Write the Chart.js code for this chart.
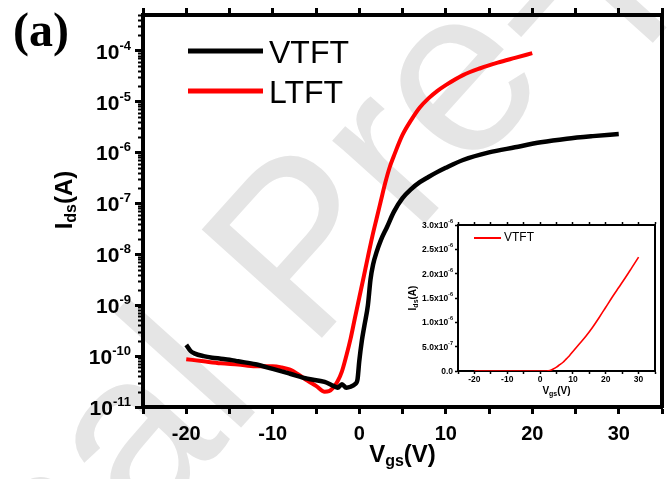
<!DOCTYPE html>
<html><head><meta charset="utf-8">
<script src="https://cdn.jsdelivr.net/npm/chart.js@4.4.0/dist/chart.umd.min.js"></script>
<style>
html,body{margin:0;padding:0;background:#fff;}
#wrap{position:relative;width:670px;height:479px;overflow:hidden;background:#fff;}
#main{position:absolute;left:0;top:0;}
#inset{position:absolute;left:400px;top:214px;}
</style></head><body>
<div id="wrap"><canvas id="main" width="670" height="479"></canvas><canvas id="inset" width="262" height="186"></canvas></div>
<script>
// ---------- data ----------
const vtftVgs = [-20,-19.5,-19,-18,-17,-16,-15,-14,-12,-10,-8,-6,-4,-3,-2.5,-2,-1.5,-1,-0.5,-0.2,0,0.3,0.6,1.0,1.3,1.6,2.0,2.5,3.2,4,5,6,7,8,9,10,12,15,18,21,24,27,30];
const vtftIds = [1.66e-10,1.26e-10,1.12e-10,1.0e-10,9.3e-11,8.9e-11,8.5e-11,7.9e-11,6.9e-11,5.6e-11,4.5e-11,3.6e-11,3.1e-11,2.6e-11,2.4e-11,2.8e-11,2.4e-11,2.5e-11,2.8e-11,3.5e-11,7.9e-11,2.0e-10,4.0e-10,1.0e-9,3.2e-9,6.3e-9,1.1e-8,1.9e-8,3.4e-8,6.8e-8,1.26e-7,1.9e-7,2.6e-7,3.3e-7,4.1e-7,5.0e-7,7.1e-7,1.0e-6,1.26e-6,1.58e-6,1.86e-6,2.09e-6,2.3e-6];
const ltftVgs = [-20,-18,-16,-14,-12,-10,-9,-8,-7,-6,-5,-4,-3.5,-3,-2.5,-2,-1.5,-1,-0.5,0,0.5,1,1.5,2,2.5,3,3.5,4,5,6,7,8,9,10,12,14,16,18,20];
const ltftIds = [8.7e-11,7.9e-11,7.2e-11,6.8e-11,6.3e-11,6.3e-11,6.0e-11,5.4e-11,4.3e-11,3.3e-11,2.6e-11,2.0e-11,2.05e-11,2.4e-11,3.2e-11,5.0e-11,1.0e-10,2.2e-10,5.6e-10,1.4e-9,3.5e-9,8.9e-9,2.2e-8,5.0e-8,1.12e-7,2.5e-7,5.0e-7,8.5e-7,2.2e-6,4.3e-6,7.6e-6,1.15e-5,1.6e-5,2.1e-5,3.3e-5,4.5e-5,5.8e-5,7.2e-5,8.9e-5];
const insetVgs = [-20,-10,0,2,3,4,5,6,7,8,9,10,12,14,16,18,20,22,24,26,28,30];
const insetIds = [0,0,0,0,0.01e-6,0.04e-6,0.08e-6,0.13e-6,0.18e-6,0.25e-6,0.32e-6,0.40e-6,0.56e-6,0.72e-6,0.90e-6,1.10e-6,1.31e-6,1.52e-6,1.72e-6,1.92e-6,2.13e-6,2.34e-6];

const seriesNames = ['VTFT','LTFT'];
const seriesColors = ['#000000','#ff0000'];
const xTickValues = [-25,-20,-15,-10,-5,0,5,10,15,20,25,30,35];
const yTickValues = [1e-11,1e-10,1e-9,1e-8,1e-7,1e-6,1e-5,1e-4];
const yTickBases = ['10','10','10','10','10','10','10','10'];
const yTickExps = ['-11','-10','-9','-8','-7','-6','-5','-4'];
const insetYTickValues = [0,5e-7,1e-6,1.5e-6,2e-6,2.5e-6,3e-6];
const insetYTickBases = ['0.0','5.0x10','1.0x10','1.5x10','2.0x10','2.5x10','3.0x10'];
const insetYTickExps = ['','-7','-6','-6','-6','-6','-6'];

const FONT = '"Liberation Sans", Arial, sans-serif';
Chart.defaults.font.family = FONT;
Chart.defaults.color = '#000';

function drawParts(ctx, parts, cx, y, weight) {
  let total = 0;
  parts.forEach(p => { ctx.font = weight + ' ' + p.size + 'px ' + FONT; p.w = ctx.measureText(p.t).width; total += p.w; });
  let x = cx - total / 2;
  ctx.textAlign = 'left'; ctx.textBaseline = 'alphabetic';
  parts.forEach(p => { ctx.font = weight + ' ' + p.size + 'px ' + FONT; ctx.fillText(p.t, x, y + (p.dy || 0)); x += p.w; });
}
function drawPowerLabel(ctx, base, exp, right, py, baseSize, expSize, baseDy, expDy) {
  ctx.textAlign = 'left'; ctx.textBaseline = 'alphabetic';
  ctx.font = 'bold ' + expSize + 'px ' + FONT;
  const ew = exp ? ctx.measureText(exp).width : 0;
  if (exp) ctx.fillText(exp, right - ew, py + expDy);
  ctx.font = 'bold ' + baseSize + 'px ' + FONT;
  const bw = ctx.measureText(base).width;
  ctx.fillText(base, right - ew - bw, py + baseDy);
}

const mainDecor = {
  id: 'mainDecor',
  beforeDraw(chart) {
    const ctx = chart.ctx;
    ctx.save();
    ctx.fillStyle = 'rgb(229,229,229)';
    ctx.font = '235px ' + FONT;
    ctx.translate(309, 352);
    ctx.rotate(-48 * Math.PI / 180);
    ctx.textBaseline = 'alphabetic';
    ctx.textAlign = 'right'; ctx.fillText('Journal ', 0, 0);
    ctx.textAlign = 'left'; ctx.fillText('Pre-proof', 0, 0);
    ctx.restore();
  },
  afterDraw(chart) {
    const ctx = chart.ctx, ca = chart.chartArea, ys = chart.scales.y;
    ctx.save();
    // minor log ticks
    ctx.strokeStyle = '#000'; ctx.lineWidth = 2;
    for (let e = -11; e <= -4; e++) {
      for (let k = 2; k <= 9; k++) {
        const v = k * Math.pow(10, e);
        if (v > ys.max) continue;
        const py = Math.round(ys.getPixelForValue(v)) + 0.5;
        ctx.beginPath(); ctx.moveTo(ca.left, py); ctx.lineTo(ca.left - 5, py); ctx.stroke();
      }
    }
    // y tick labels with superscript exponents
    ctx.fillStyle = '#000';
    yTickValues.forEach((v, i) => {
      const py = ys.getPixelForValue(v);
      drawPowerLabel(ctx, yTickBases[i], yTickExps[i], 131, py, 21, 13, 8, -1);
    });
    // legend
    const ly = [51, 91];
    ctx.lineWidth = 5; ctx.lineCap = 'butt';
    seriesNames.forEach((n, i) => {
      ctx.strokeStyle = seriesColors[i];
      ctx.beginPath(); ctx.moveTo(188, ly[i]); ctx.lineTo(263, ly[i]); ctx.stroke();
      ctx.fillStyle = '#000'; ctx.font = '32px ' + FONT; ctx.textAlign = 'left'; ctx.textBaseline = 'alphabetic';
      ctx.fillText(n, 269, ly[i] + 12);
    });
    // axis titles
    ctx.fillStyle = '#000';
    drawParts(ctx, [{t:'V', size:24}, {t:'gs', size:16, dy:4}, {t:'(V)', size:24}], (ca.left + ca.right) / 2, 462, 'bold');
    ctx.save();
    ctx.translate(72, 200);
    ctx.rotate(-Math.PI / 2);
    drawParts(ctx, [{t:'I', size:24}, {t:'ds', size:16, dy:4}, {t:'(A)', size:24}], 0, 0, 'bold');
    ctx.restore();
    // panel label
    ctx.font = 'bold 48px "Liberation Serif", "Times New Roman", serif';
    ctx.textAlign = 'left'; ctx.textBaseline = 'alphabetic';
    ctx.fillText('(a)', 13, 46);
    ctx.restore();
  }
};

const axisBorder = { width: 4, color: '#000' };
new Chart(document.getElementById('main'), {
  type: 'line',
  data: {
    datasets: [
      { label: seriesNames[0], data: vtftVgs.map((x, i) => ({ x, y: vtftIds[i] })), borderColor: seriesColors[0], borderWidth: 4.5, pointRadius: 0, cubicInterpolationMode: 'monotone', fill: false },
      { label: seriesNames[1], data: ltftVgs.map((x, i) => ({ x, y: ltftIds[i] })), borderColor: seriesColors[1], borderWidth: 4, pointRadius: 0, cubicInterpolationMode: 'monotone', fill: false }
    ]
  },
  options: {
    responsive: false, animation: false, devicePixelRatio: 1,
    layout: { padding: 0 },
    plugins: { legend: { display: false }, tooltip: { enabled: false } },
    scales: {
      x: {
        type: 'linear', position: 'bottom', min: -25, max: 35,
        afterBuildTicks: s => { s.ticks = xTickValues.map(v => ({ value: v })); },
        ticks: { callback: v => (v % 10 === 0 ? String(v) : ''), font: { size: 20, weight: 'bold' }, color: '#000', padding: 8, maxRotation: 0, autoSkip: false },
        grid: { drawOnChartArea: false, tickLength: 7, tickWidth: 3, tickColor: '#000' },
        border: axisBorder,
        afterFit: s => { s.height = 72; }
      },
      x2: {
        type: 'linear', position: 'top', min: -25, max: 35,
        afterBuildTicks: s => { s.ticks = xTickValues.map(v => ({ value: v })); },
        ticks: { display: false },
        grid: { drawOnChartArea: false, tickLength: 7, tickWidth: 3, tickColor: '#000' },
        border: axisBorder,
        afterFit: s => { s.height = 15; }
      },
      y: {
        type: 'logarithmic', position: 'left', min: 1e-11, max: 5e-4,
        afterBuildTicks: s => { s.ticks = yTickValues.map(v => ({ value: v, major: true })); },
        ticks: { display: false },
        grid: { drawOnChartArea: false, tickLength: 8, tickWidth: 3, tickColor: '#000' },
        border: axisBorder,
        afterFit: s => { s.width = 143; }
      },
      y2: {
        type: 'linear', position: 'right',
        ticks: { display: false },
        grid: { drawOnChartArea: false, drawTicks: false },
        border: axisBorder,
        afterFit: s => { s.width = 2; }
      }
    }
  },
  plugins: [mainDecor]
});

// ---------- inset ----------
const insetDecor = {
  id: 'insetDecor',
  afterDraw(chart) {
    const ctx = chart.ctx, ca = chart.chartArea, ys = chart.scales.y;
    ctx.save();
    ctx.fillStyle = '#000';
    insetYTickValues.forEach((v, i) => {
      drawPowerLabel(ctx, insetYTickBases[i], insetYTickExps[i], 53, ys.getPixelForValue(v), 8.5, 5.5, 3, -2);
    });
    ctx.strokeStyle = '#ff0000'; ctx.lineWidth = 2;
    ctx.beginPath(); ctx.moveTo(74, 24); ctx.lineTo(101, 24); ctx.stroke();
    ctx.fillStyle = '#000'; ctx.font = '12px ' + FONT; ctx.textAlign = 'left'; ctx.textBaseline = 'middle';
    ctx.fillText(seriesNames[0], 104, 24);
    drawParts(ctx, [{t:'V', size:10}, {t:'gs', size:7, dy:2}, {t:'(V)', size:10}], (ca.left + ca.right) / 2, 180, 'bold');
    ctx.save();
    ctx.translate(16, (ca.top + ca.bottom) / 2);
    ctx.rotate(-Math.PI / 2);
    drawParts(ctx, [{t:'I', size:10}, {t:'ds', size:7, dy:2}, {t:'(A)', size:10}], 0, 0, 'bold');
    ctx.restore();
    ctx.restore();
  }
};
const insetBorder = { width: 2, color: '#000' };
const insetXTickValues = xTickValues;
new Chart(document.getElementById('inset'), {
  type: 'line',
  data: { datasets: [{ label: seriesNames[0], data: insetVgs.map((x, i) => ({ x, y: insetIds[i] })), borderColor: '#ff0000', borderWidth: 1.6, pointRadius: 0, cubicInterpolationMode: 'monotone', fill: false }] },
  options: {
    responsive: false, animation: false, devicePixelRatio: 1,
    layout: { padding: 0 },
    plugins: { legend: { display: false }, tooltip: { enabled: false } },
    scales: {
      x: {
        type: 'linear', position: 'bottom', min: -25, max: 35,
        afterBuildTicks: s => { s.ticks = insetXTickValues.map(v => ({ value: v })); },
        ticks: { callback: v => (v % 10 === 0 ? String(v) : ''), font: { size: 8.5, weight: 'bold' }, color: '#000', padding: 1, maxRotation: 0, autoSkip: false },
        grid: { drawOnChartArea: false, tickLength: 3, tickWidth: 1.5, tickColor: '#000' },
        border: insetBorder,
        afterFit: s => { s.height = 29; }
      },
      x2: {
        type: 'linear', position: 'top', min: -25, max: 35,
        afterBuildTicks: s => { s.ticks = insetXTickValues.map(v => ({ value: v })); },
        ticks: { display: false },
        grid: { drawOnChartArea: false, tickLength: 3, tickWidth: 1.5, tickColor: '#000' },
        border: insetBorder,
        afterFit: s => { s.height = 11; }
      },
      y: {
        type: 'linear', position: 'left', min: 0, max: 3e-6,
        afterBuildTicks: s => { s.ticks = insetYTickValues.map(v => ({ value: v })); },
        ticks: { display: false },
        grid: { drawOnChartArea: false, tickLength: 3, tickWidth: 1.5, tickColor: '#000' },
        border: insetBorder,
        afterFit: s => { s.width = 58; }
      },
      y2: {
        type: 'linear', position: 'right',
        ticks: { display: false },
        grid: { drawOnChartArea: false, drawTicks: false },
        border: insetBorder,
        afterFit: s => { s.width = 7; }
      }
    }
  },
  plugins: [insetDecor]
});
</script></body></html>
